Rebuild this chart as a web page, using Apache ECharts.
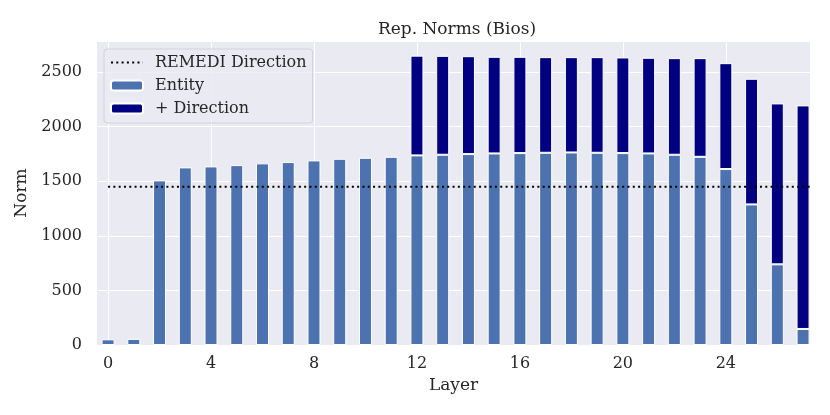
<!DOCTYPE html>
<html>
<head>
<meta charset="utf-8">
<script src="https://cdn.jsdelivr.net/npm/echarts@6/dist/echarts.min.js"></script>
<style>html,body{margin:0;padding:0;background:#fff}#c{width:830px;height:415px}</style>
</head>
<body>
<div id="c"></div>
<script>
const layers = [0,1,2,3,4,5,6,7,8,9,10,11,12,13,14,15,16,17,18,19,20,21,22,23,24,25,26,27];
const entity = [52,56,1508,1627,1636,1648,1664,1676,1691,1706,1715,1724,1737,1743,1749,1755,1758,1761,1764,1761,1758,1755,1743,1724,1612,1288,739,147];
const direction = [null,null,null,null,null,null,null,null,null,null,null,null,914,906,897,885,882,876,873,876,876,876,885,904,970,1151,1474,2048];
const remediNorm = 1450;
const xTicks = [0,4,8,12,16,20,24];

const FONT = 'DejaVu Serif';
const TXT = '#262626';
const xMin = -0.43, xMax = 27.27, yMax = 2785;
// plot area pixels
const PL = 97, PR = 810, PT = 41, PB = 345, W = 830, H = 415;
const unit = (PR - PL) / (xMax - xMin);
const barGridLeft = PL + (-0.5 - xMin) * unit;
const barGridRight = PL + (layers.length - 0.5 - xMin) * unit;

const chart = echarts.init(document.getElementById('c'), null, {renderer:'canvas'});
chart.setOption({
  animation: false,
  backgroundColor: '#ffffff',
  title: {
    text: 'Rep. Norms (Bios)',
    left: 452, top: 16, textAlign: 'center',
    textStyle: {fontFamily: FONT, fontSize: 17, fontWeight: 'normal', color: TXT}
  },
  grid: [
    {left: PL, right: W - PR, top: PT, bottom: H - PB, show: true, backgroundColor: '#EAEAF2', borderWidth: 0},
    {left: barGridLeft, right: W - barGridRight, top: PT, bottom: H - PB, show: false}
  ],
  legend: {
    orient: 'vertical', left: 104, top: 49,
    padding: [5, 6, 6, 6],
    itemWidth: 32, itemHeight: 10, itemGap: 6,
    backgroundColor: 'rgba(234,234,242,0.8)', borderColor: '#d2d2d8', borderWidth: 1, borderRadius: 3,
    textStyle: {fontFamily: FONT, fontSize: 16, color: TXT, padding: [0,0,0,7], lineHeight: 17},
    data: [{name: 'REMEDI Direction', itemStyle: {opacity: 0}}, 'Entity', '+ Direction']
  },
  xAxis: [
    {
      gridIndex: 0, type: 'value', min: xMin, max: xMax,
      name: 'Layer', nameLocation: 'middle', nameGap: 30,
      nameTextStyle: {fontFamily: FONT, fontSize: 17, color: TXT},
      axisLine: {show: false},
      axisTick: {show: true, inside: true, length: PB - PT, customValues: xTicks, lineStyle: {color: '#ffffff', width: 1}},
      splitLine: {show: false},
      axisLabel: {customValues: xTicks, fontFamily: FONT, fontSize: 16, color: TXT, margin: 11}
    },
    {
      gridIndex: 1, type: 'category', data: layers, boundaryGap: true,
      axisLine: {show: false}, axisTick: {show: false}, axisLabel: {show: false}, splitLine: {show: false}
    }
  ],
  yAxis: [
    {
      gridIndex: 0, type: 'value', min: 0, max: yMax, interval: 500,
      name: 'Norm', nameLocation: 'middle', nameGap: 62,
      nameTextStyle: {fontFamily: FONT, fontSize: 17, color: TXT},
      axisLine: {show: false}, axisTick: {show: false},
      splitLine: {show: true, lineStyle: {color: '#ffffff', width: 1}},
      axisLabel: {fontFamily: FONT, fontSize: 16, color: TXT, margin: 15,
        formatter: v => (v % 500 === 0 ? String(v) : '')}
    },
    {
      gridIndex: 1, type: 'value', min: 0, max: yMax,
      axisLine: {show: false}, axisTick: {show: false}, axisLabel: {show: false}, splitLine: {show: false}
    }
  ],
  series: [
    {
      name: 'Entity', type: 'bar', stack: 'n', barWidth: 13, xAxisIndex: 1, yAxisIndex: 1,
      itemStyle: {color: '#4C72B0', borderColor: '#ffffff', borderWidth: 1},
      data: entity
    },
    {
      name: '+ Direction', type: 'bar', stack: 'n', barWidth: 13, xAxisIndex: 1, yAxisIndex: 1,
      itemStyle: {color: '#000080', borderColor: '#ffffff', borderWidth: 1},
      data: direction
    },
    {
      name: 'REMEDI Direction', type: 'line', symbol: 'none', z: 5, xAxisIndex: 0, yAxisIndex: 0,
      lineStyle: {color: '#000000', width: 2, type: [2, 3.3]},
      itemStyle: {color: '#000000'},
      data: [[layers[0], remediNorm], [xMax, remediNorm]]
    }
  ]
});
</script>
</body>
</html>
